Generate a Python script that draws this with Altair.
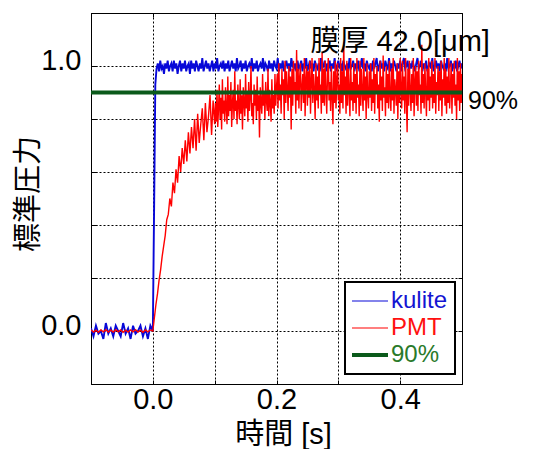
import altair as alt
import pandas as pd

FONT = "Liberation Sans, Noto Sans CJK JP"

# ---------------- data ----------------
series_names = ["kulite", "PMT", "90%"]
series_colors = ["#0808d8", "#ff0000", "#0b5a1b"]
label_colors = ["#1414d2", "#ff1010", "#2a7a2a"]

x_grid = [-0.1, 0.0, 0.1, 0.2, 0.3, 0.4, 0.5]
y_grid = [-0.2, 0.0, 0.2, 0.4, 0.6, 0.8, 1.0, 1.2]

# kulite: before the step (t = -0.1 ... 0.0, every 0.004 s)
kulite_pre = [0.01, -0.02, 0.02, -0.01, 0.00, -0.03, 0.03, -0.01, 0.01, -0.02,
              0.02, 0.00, -0.02, 0.03, -0.01, 0.01, -0.03, 0.02, -0.01, 0.00,
              0.02, -0.02, 0.01, -0.03, 0.02, 0.00]
kulite_rise_t = [0.002, 0.004]
kulite_rise = [0.45, 0.93]
# kulite: after the step (t = 0.006 ... 0.5, every 0.002 s)
kulite_post = [
    0.99, 1.01, 0.98, 1.02, 0.99, 1.00, 0.97, 1.01, 0.99, 1.02, 0.98, 1.00, 1.01, 0.98, 1.02, 0.99, 1.01, 0.97, 1.00, 1.02,
    0.98, 1.01, 0.99, 1.02, 0.98, 1.00, 1.01, 0.97, 1.02, 0.99, 1.01, 0.98, 1.02, 1.00, 0.98, 1.01, 0.99, 1.03, 0.98, 1.00,
    1.02, 0.99, 1.01, 0.98, 1.00, 1.02, 0.98, 1.01, 0.99, 1.03, 0.98, 1.00, 1.01, 0.99, 1.02, 0.98, 1.01, 0.99, 1.02, 0.98,
    1.00, 1.02, 0.99, 1.01, 0.98, 1.03, 0.99, 1.00, 1.02, 0.98, 1.01, 0.99, 1.02, 0.98, 1.00, 1.01, 0.99, 1.03, 0.98, 1.01,
    0.99, 1.02, 0.98, 1.00, 1.01, 0.99, 1.03, 0.98, 1.01, 1.00, 0.98, 1.02, 0.99, 1.01, 0.98, 1.02, 1.00, 0.99, 1.03, 0.98,
    1.01, 0.99, 1.02, 0.98, 1.00, 1.02, 0.99, 1.01, 0.98, 1.03, 1.00, 0.99, 1.01, 0.98, 1.02, 0.99, 1.00, 1.02, 0.98, 1.01,
    0.99, 1.03, 0.98, 1.00, 1.02, 0.99, 1.01, 0.98, 1.02, 1.00, 0.99, 1.01, 0.98, 1.03, 0.99, 1.00, 1.02, 0.98, 1.01, 0.99,
    1.02, 0.98, 1.01, 0.99, 1.03, 0.98, 1.00, 1.02, 0.99, 1.01, 0.98, 1.02, 1.00, 0.99, 1.01, 0.98, 1.03, 0.99, 1.00, 1.02,
    0.98, 1.01, 0.99, 1.02, 0.98, 1.00, 1.03, 0.99, 1.01, 0.98, 1.02, 1.00, 0.99, 1.01, 0.98, 1.02, 0.99, 1.01, 1.03, 0.98,
    1.00, 1.02, 0.99, 1.01, 0.98, 1.02, 1.00, 0.99, 1.03, 0.98, 1.01, 0.99, 1.02, 1.00, 0.98, 1.01, 0.99, 1.02, 0.98, 1.01,
    1.03, 0.99, 1.00, 1.02, 0.98, 1.01, 0.99, 1.02, 1.00, 0.98, 1.01, 1.03, 0.99, 1.00, 1.02, 0.98, 1.01, 0.99, 1.02, 0.98,
    1.00, 1.01, 0.99, 1.03, 0.98, 1.00, 1.02, 0.99, 1.01, 0.98, 1.02, 1.00, 0.99, 1.01, 0.98, 1.03, 0.99, 1.00, 1.02, 0.98,
    1.01, 0.99, 1.02, 0.98, 1.00, 1.02, 0.99, 1.01]

# PMT: before the step (t = -0.1 ... 0.0, every 0.004 s)
pmt_pre = [0.004, -0.004, 0.003, -0.005, 0.004, -0.003, 0.005, -0.004, 0.003, -0.004,
           0.005, -0.003, 0.004, -0.005, 0.003, -0.004, 0.004, -0.003, 0.005, -0.004,
           0.003, -0.005, 0.004, -0.003, 0.004, 0.0]
# PMT rise: t = 0.0025 ... 0.1, every 0.0025 s
pmt_rise = [0.05, 0.10, 0.14, 0.19, 0.23, 0.28, 0.32, 0.36, 0.42, 0.44,
            0.50, 0.47, 0.56, 0.52, 0.61, 0.56, 0.66, 0.60, 0.69, 0.63,
            0.72, 0.64, 0.75, 0.67, 0.77, 0.69, 0.80, 0.68, 0.82, 0.71,
            0.78, 0.84, 0.72, 0.86, 0.75, 0.81, 0.89, 0.74, 0.87, 0.78]
# PMT: t = 0.10125 ... 0.5, every 0.00125 s
pmt_mid = [
    0.86, 0.79, 0.91, 0.77, 0.84, 0.93, 0.80, 0.88, 0.76, 0.95, 0.82, 0.87, 0.79, 0.92, 0.84, 0.78, 0.96, 0.81, 0.89, 0.83,
    0.94, 0.77, 0.86, 0.91, 0.80, 0.98, 0.83, 0.87, 0.78, 0.93, 0.85, 0.80, 0.95, 0.82, 0.89, 0.76, 0.92, 0.86, 0.81, 0.97,
    0.84, 0.90, 0.79, 0.94, 0.83, 0.88, 1.00, 0.81, 0.86, 0.78, 0.93, 0.85, 0.91, 0.80, 0.96, 0.83, 0.89, 0.73, 0.92, 0.86,
    0.82, 0.97, 0.85, 0.90, 0.80, 0.94, 0.87, 0.83, 0.99, 0.81, 0.91, 0.86, 0.79, 0.95, 0.84, 0.89, 0.82, 0.97, 0.85, 0.92]
pmt_late = [
    0.97, 0.84, 1.01, 0.87, 0.93, 0.82, 0.99, 0.89, 0.95, 0.80, 1.02, 0.86, 0.98, 0.91, 0.83, 1.00, 0.88, 0.96, 0.76, 0.99,
    0.85, 1.02, 0.90, 0.94, 0.82, 1.06, 0.87, 0.99, 0.84, 0.96, 1.01, 0.83, 0.92, 0.97, 0.86, 1.03, 0.81, 0.95, 1.00, 0.85,
    0.98, 0.88, 1.02, 0.82, 0.94, 1.03, 0.86, 0.97, 0.91, 0.80, 1.01, 0.87, 0.96, 0.84, 1.03, 0.89, 0.93, 0.82, 1.05, 0.86,
    0.99, 0.85, 1.02, 0.91, 0.82, 0.97, 1.03, 0.87, 0.94, 0.83, 1.00, 0.88, 0.78, 0.98, 0.86, 1.02, 0.84, 0.95, 1.01, 0.87,
    0.93, 0.82, 1.03, 0.86, 0.98, 0.84, 1.09, 0.89, 0.96, 0.82, 1.02, 0.85, 0.99, 0.91, 0.81, 1.03, 0.87, 0.94, 0.83, 1.01,
    0.86, 0.97, 0.82, 1.03, 0.88, 0.93, 0.81, 1.02, 0.85, 0.99, 0.90, 0.83, 1.03, 0.87, 0.96, 0.80, 1.01, 0.89, 0.84, 0.98,
    0.88, 1.01, 0.83, 0.95, 0.86, 1.03, 0.82, 0.97, 0.90, 1.00, 0.84, 0.93, 0.79, 1.02, 0.87, 0.96, 0.83, 1.04, 0.88, 0.92,
    0.81, 1.00, 0.86, 0.97, 0.84, 1.02, 0.89, 0.83, 0.99, 0.87, 1.03, 0.82, 0.95, 0.91, 0.85, 1.01, 0.80, 0.98, 0.86, 1.03,
    0.90, 0.84, 1.02, 0.87, 0.96, 0.82, 1.03, 0.88, 0.75, 0.99, 0.85, 1.02, 0.91, 0.83, 0.97, 0.86, 1.03, 0.81, 0.94, 1.00,
    0.85, 0.98, 0.83, 1.02, 0.89, 0.93, 0.82, 1.08, 0.86, 0.97, 0.84, 1.01, 0.90, 0.81, 0.99, 0.87, 1.03, 0.83, 0.96, 0.88,
    1.02, 0.84, 0.97, 0.86, 1.03, 0.82, 0.94, 0.89, 1.00, 0.83, 0.98, 0.87, 1.02, 0.81, 0.95, 0.88, 1.03, 0.85, 0.99, 0.82,
    0.96, 0.86, 1.03, 0.84, 0.91, 1.01, 0.82, 0.97, 0.88, 1.02, 0.85, 0.93, 0.80, 1.03, 0.87, 0.98, 0.83, 1.01, 0.86, 0.97]

ninety_t = [-0.1, 0.5]
ninety_v = [0.9, 0.9]

title_text = ["膜厚 42.0[μm]"]
title_t = [0.4]
title_v = [1.09]
ninety_label = ["90%"]
y_title = ["標準圧力"]
x_title = "時間 [s]"

# ---------------- tables ----------------
kulite_t = ([round(-0.1 + 0.004 * i, 4) for i in range(len(kulite_pre))]
            + kulite_rise_t
            + [round(0.006 + 0.002 * i, 4) for i in range(len(kulite_post))])
kulite_v = kulite_pre + kulite_rise + kulite_post
df_k = pd.DataFrame({"t": kulite_t, "v": kulite_v, "series": "kulite"})

pmt_fine = pmt_mid + pmt_late
pmt_t = ([round(-0.1 + 0.004 * i, 4) for i in range(len(pmt_pre))]
         + [round(0.0025 * (i + 1), 5) for i in range(len(pmt_rise))]
         + [round(0.1 + 0.00125 * (i + 1), 5) for i in range(len(pmt_fine))])
df_p = pd.DataFrame({"t": pmt_t, "v": pmt_pre + pmt_rise + pmt_fine, "series": "PMT"})

df_g = pd.DataFrame({"t": ninety_t, "v": ninety_v, "series": "90%"})
df_title = pd.DataFrame({"t": title_t, "v": title_v, "txt": title_text})
df_90 = pd.DataFrame({"t": [ninety_t[-1]], "v": [ninety_v[-1]], "txt": ninety_label})
df_ytitle = pd.DataFrame({"txt": y_title})

xs = alt.Scale(domain=[-0.1, 0.5], nice=False, zero=False)
ys = alt.Scale(domain=[-0.2, 1.2], nice=False, zero=False)

label_expr_color = ("datum.value == '%s' ? '%s' : datum.value == '%s' ? '%s' : '%s'"
                    % (series_names[0], label_colors[0], series_names[1], label_colors[1], label_colors[2]))

color = alt.Color(
    "series:N",
    scale=alt.Scale(domain=series_names, range=series_colors),
    legend=alt.Legend(
        orient="none", legendX=254, legendY=269, title=None,
        fillColor="white", strokeColor="black", padding=7,
        labelFont=FONT, labelFontSize=24, labelOffset=9, labelLimit=0,
        symbolType="stroke", symbolSize=1296, symbolOffset=6,
        symbolStrokeWidth=alt.ExprRef(expr="datum.value == '90%' ? 4 : 1.2"),
        labelColor=alt.ExprRef(expr=label_expr_color),
        rowPadding=3,
    ),
)

x_lab_expr = "(datum.value == 0 || datum.value == 0.2 || datum.value == 0.4) ? format(datum.value, '.1f') : ''"
y_lab_expr = "(datum.value == 0 || datum.value == 1) ? format(datum.value, '.1f') : ''"

x_axis_main = alt.Axis(
    orient="bottom", values=x_grid, offset=-4, tickSize=4, tickColor="black", tickWidth=1,
    domain=False, grid=True, gridColor="black", gridDash=[2, 2], gridWidth=1, gridOpacity=1,
    labelExpr=x_lab_expr, labelFont=FONT, labelFontSize=29, labelColor="black",
    labelPadding=1, labelOverlap=False, labelFlush=False, labelBound=False,
    title=x_title, titleFont=FONT, titleFontSize=29, titleFontWeight="normal", titleColor="black",
    titleX=192, titleY=54, titleAlign="center", titleBaseline="middle",
)
y_axis_main = alt.Axis(
    orient="left", values=y_grid, offset=-6, tickSize=6, tickColor="black", tickWidth=1,
    domain=False, grid=True, gridColor="black", gridDash=[2, 2], gridWidth=1, gridOpacity=1,
    labelExpr=y_lab_expr, labelFont=FONT, labelFontSize=29, labelColor="black",
    labelPadding=10, labelOffset=-6, labelOverlap=False, labelFlush=False, labelBound=False,
    title=None,
)
x_axis_top = alt.Axis(orient="top", values=x_grid, offset=-4, tickSize=4, tickColor="black",
                      domain=False, grid=False, labels=False, title=None)
y_axis_right = alt.Axis(orient="right", values=y_grid, offset=-4, tickSize=4, tickColor="black",
                        domain=False, grid=False, labels=False, title=None)

blue = alt.Chart(df_k).mark_line(strokeWidth=1.9, clip=True).encode(
    x=alt.X("t:Q", scale=xs, axis=x_axis_main),
    y=alt.Y("v:Q", scale=ys, axis=y_axis_main),
    color=color,
)
red = alt.Chart(df_p).mark_line(strokeWidth=1.4, clip=True).encode(
    x=alt.X("t:Q", scale=xs, axis=x_axis_top),
    y=alt.Y("v:Q", scale=ys, axis=y_axis_right),
    color=color,
)
green = alt.Chart(df_g).mark_line(strokeWidth=4).encode(
    x=alt.X("t:Q", scale=xs, axis=None),
    y=alt.Y("v:Q", scale=ys, axis=None),
    color=color,
)
title_mark = alt.Chart(df_title).mark_text(
    font=FONT, fontSize=29, color="black", align="center", baseline="middle"
).encode(
    x=alt.X("t:Q", scale=xs, axis=None),
    y=alt.Y("v:Q", scale=ys, axis=None),
    text="txt:N",
)
ninety_mark = alt.Chart(df_90).mark_text(
    font=FONT, fontSize=25, color="black", align="left", baseline="middle", dx=6, dy=8
).encode(
    x=alt.X("t:Q", scale=xs, axis=None),
    y=alt.Y("v:Q", scale=ys, axis=None),
    text="txt:N",
)
# y-axis title, placed in the left margin
ytitle_mark = alt.Chart(df_ytitle).mark_text(
    font=FONT, fontSize=29, color="black", align="center", baseline="middle", angle=270
).encode(
    x=alt.value(-62),
    y=alt.value(181),
    text="txt:N",
)

chart = (
    alt.layer(blue, red, green, title_mark, ninety_mark, ytitle_mark)
    .resolve_axis(x="independent", y="independent")
    .properties(
        width=371, height=371,
        padding={"left": 91, "top": 13, "right": 74, "bottom": 65},
        autosize=alt.AutoSizeParams(type="none"),
        background="white",
    )
    .configure_view(stroke="black", strokeWidth=1)
    .configure_legend(strokeWidth=2)
)

chart.save("out.html", embed_options={"renderer": "svg", "actions": False})
